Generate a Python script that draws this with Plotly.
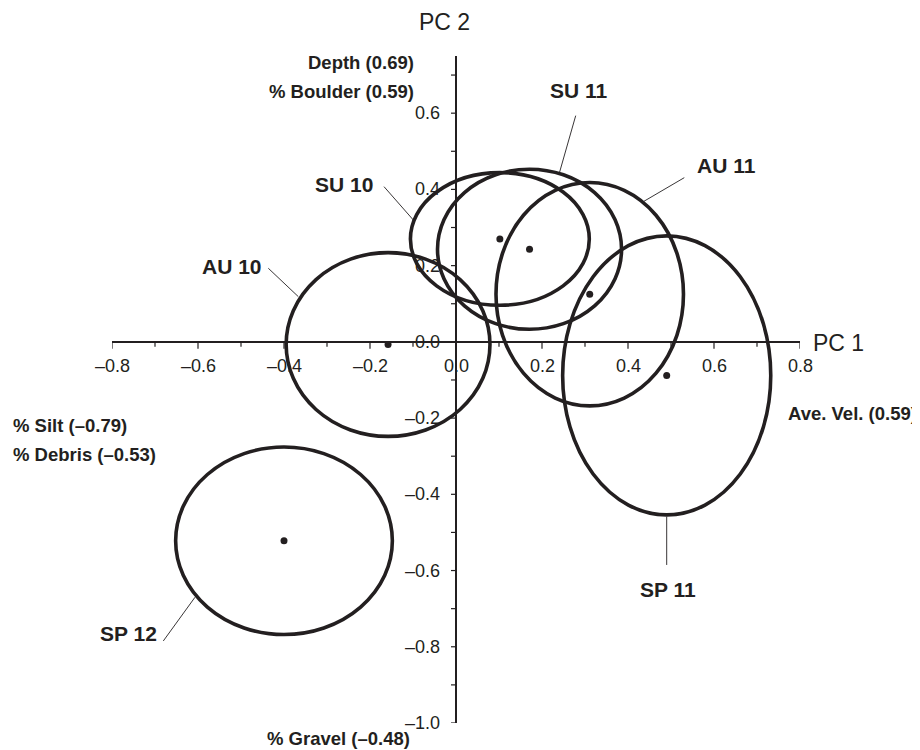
import plotly.graph_objects as go

# ---------------- data ----------------
groups = ["AU 10", "SU 10", "SU 11", "AU 11", "SP 11", "SP 12"]
pc1_mean = [-0.158, 0.102, 0.171, 0.311, 0.490, -0.400]
pc2_mean = [-0.007, 0.270, 0.243, 0.125, -0.088, -0.522]
pc1_spread = [0.237, 0.208, 0.214, 0.218, 0.242, 0.252]
pc2_spread = [0.241, 0.174, 0.210, 0.293, 0.366, 0.246]

x_ticks = [-0.8, -0.6, -0.4, -0.2, 0.0, 0.2, 0.4, 0.6, 0.8]
y_ticks = [-1.0, -0.8, -0.6, -0.4, -0.2, 0.0, 0.2, 0.4, 0.6]
x_minor = [-0.7, -0.5, -0.3, -0.1, 0.1, 0.3, 0.5, 0.7]
y_minor = [-0.9, -0.7, -0.5, -0.3, -0.1, 0.1, 0.3, 0.5, 0.7]

loadings = ["Depth (0.69)", "% Boulder (0.59)", "% Silt (\u20130.79)",
            "% Debris (\u20130.53)", "% Gravel (\u20130.48)", "Ave. Vel. (0.59)"]

# ---------------- layout helpers (positions / styles) ----------------
INK = "#231f20"
FONT = "Liberation Sans, Arial, Helvetica, sans-serif"

# group label placement (data coords): (x, y, xanchor); leader line (x0, y0, x1, y1)
group_label_pos = {
    "AU 10": (-0.4465, 0.199, "right"),
    "SU 10": (-0.188, 0.412, "right"),
    "SU 11": (0.287, 0.659, "center"),
    "AU 11": (0.556, 0.4615, "left"),
    "SP 11": (0.494, -0.651, "center"),
    "SP 12": (-0.6914, -0.7646, "right"),
}
leader = {
    "AU 10": (-0.4365, 0.1931, -0.3667, 0.1186),
    "SU 10": (-0.1674, 0.4072, -0.0993, 0.3198),
    "SU 11": (0.2784, 0.5935, 0.2402, 0.4424),
    "AU 11": (0.5309, 0.4308, 0.4356, 0.3678),
    "SP 11": (0.490, -0.4586, 0.490, -0.5853),
    "SP 12": (-0.6807, -0.7848, -0.6070, -0.6701),
}
# loading labels (paper coords): (x, y, xanchor)
loading_pos = [
    (0.4419, 0.990, "right"),
    (0.4419, 0.9465, "right"),
    (-0.1468, 0.4453, "left"),
    (-0.1468, 0.4018, "left"),
    (0.4356, -0.0229, "right"),
    (0.9797, 0.4643, "left"),
]

fig = go.Figure()

shapes = []
annotations = []

# ellipses
for cx, cy, rx, ry in zip(pc1_mean, pc2_mean, pc1_spread, pc2_spread):
    shapes.append(dict(type="circle", xref="x", yref="y",
                       x0=cx - rx, x1=cx + rx, y0=cy - ry, y1=cy + ry,
                       line=dict(color=INK, width=3.6), layer="above"))

# centroids
fig.add_trace(go.Scatter(x=pc1_mean, y=pc2_mean, mode="markers",
                         marker=dict(color=INK, size=7, symbol="circle"),
                         hoverinfo="skip", showlegend=False, cliponaxis=False))

# ticks on the axes crossing at the origin
for v in x_ticks:
    shapes.append(dict(type="line", xref="x", yref="y", ysizemode="pixel", yanchor=0,
                       x0=v, x1=v, y0=0, y1=-7, line=dict(color=INK, width=1.2)))
for v in x_minor:
    shapes.append(dict(type="line", xref="x", yref="y", ysizemode="pixel", yanchor=0,
                       x0=v, x1=v, y0=0, y1=-5, line=dict(color=INK, width=1.2)))
for v in y_ticks + y_minor:
    shapes.append(dict(type="line", xref="x", yref="y", xsizemode="pixel", xanchor=0,
                       x0=-5, x1=0, y0=v, y1=v, line=dict(color=INK, width=1.2)))

def fmt(v):
    s = f"{abs(v):.1f}"
    return ("\u2013" + s) if v < 0 else s

for v in x_ticks:
    annotations.append(dict(x=v, y=0, xref="x", yref="y", text=fmt(v), showarrow=False,
                            xanchor="center", yanchor="middle", yshift=-24,
                            font=dict(family=FONT, size=18, color=INK)))
for v in y_ticks:
    annotations.append(dict(x=0, y=v, xref="x", yref="y", text=fmt(v), showarrow=False,
                            xanchor="right", yanchor="middle", xshift=-14,
                            font=dict(family=FONT, size=18, color=INK)))

# group labels + leader lines
for g in groups:
    x, y, xa = group_label_pos[g]
    annotations.append(dict(x=x, y=y, xref="x", yref="y", text=f"<b>{g}</b>",
                            showarrow=False, xanchor=xa, yanchor="middle",
                            font=dict(family=FONT, size=21, color=INK)))
    x0, y0, x1, y1 = leader[g]
    shapes.append(dict(type="line", xref="x", yref="y", x0=x0, y0=y0, x1=x1, y1=y1,
                       line=dict(color=INK, width=0.9)))

# loading labels
for txt, (x, y, xa) in zip(loadings, loading_pos):
    annotations.append(dict(x=x, y=y, xref="paper", yref="paper", text=f"<b>{txt}</b>",
                            showarrow=False, xanchor=xa, yanchor="middle",
                            font=dict(family=FONT, size=18.5, color=INK)))

# axis titles
annotations.append(dict(x=1.0156, y=0.5697, xref="paper", yref="paper", text="PC 1",
                        showarrow=False, xanchor="left", yanchor="middle",
                        font=dict(family=FONT, size=23, color=INK)))
annotations.append(dict(x=0.484, y=1.051, xref="paper", yref="paper", text="PC 2",
                        showarrow=False, xanchor="center", yanchor="middle",
                        font=dict(family=FONT, size=23, color=INK)))

fig.update_layout(
    width=920, height=750, autosize=False,
    margin=dict(l=104, r=128, t=48, b=35),
    plot_bgcolor="white", paper_bgcolor="white",
    shapes=shapes, annotations=annotations,
    xaxis=dict(range=[-0.8, 0.8], showgrid=False, showticklabels=False, ticks="",
               zeroline=True, zerolinecolor=INK, zerolinewidth=1.5, showline=False,
               fixedrange=True),
    yaxis=dict(range=[-1.0, 0.75], showgrid=False, showticklabels=False, ticks="",
               zeroline=True, zerolinecolor=INK, zerolinewidth=1.5, showline=False,
               fixedrange=True),
    showlegend=False,
)

fig.write_html("out.html")
